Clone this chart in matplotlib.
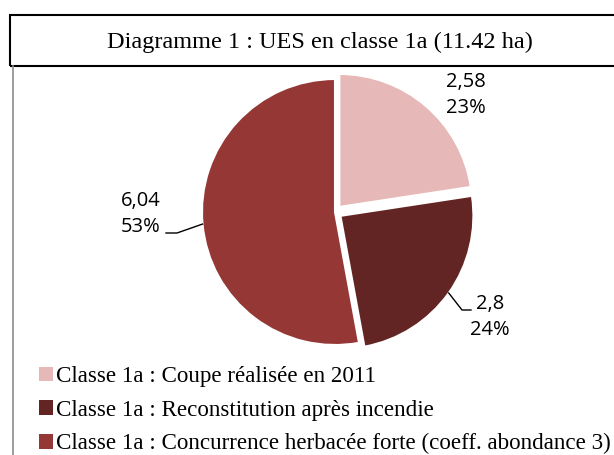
import matplotlib.pyplot as plt
import numpy as np
from matplotlib.patches import Rectangle, Patch

# data
labels = ["Classe 1a : Coupe réalisée en 2011",
          "Classe 1a : Reconstitution après incendie",
          "Classe 1a : Concurrence herbacée forte (coeff. abondance 3)"]
surfaces = [2.58, 2.8, 6.04]
value_labels = ["2,58", "2,8", "6,04"]
pct_labels = ["23%", "24%", "53%"]
colors = ["#E6B9B8", "#632523", "#953735"]
title = "Diagramme 1 : UES en classe 1a (11.42 ha)"

W, H = 614, 455
fig = plt.figure(figsize=(W / 100, H / 100), dpi=100)
ax = fig.add_axes([0, 0, 1, 1])

# pie, in pixel coordinates (y going up)
cx, cy, r = 335, H - 212, 133
# explode is an absolute offset in matplotlib, so scale it by the radius
wedges, _ = ax.pie(surfaces, colors=colors, startangle=90, counterclock=False,
                   explode=[0.05 * r, 0.05 * r, 0], radius=r, center=(cx, cy),
                   wedgeprops=dict(edgecolor="white", linewidth=1.5))
ax.set_xlim(0, W)
ax.set_ylim(0, H)
ax.set_aspect("equal")
ax.axis("off")

# data labels
lab_font = dict(family="Open Sans", fontsize=14.5, ha="center", va="center",
                linespacing=1.35, color="black")
lab_pos = [(466, H - 95), (490, H - 317), (141, H - 214)]
for i, (x, y) in enumerate(lab_pos):
    ax.text(x, y, value_labels[i] + "\n" + pct_labels[i], **lab_font)

# leader lines for the two last slices
elbows = {1: [(462, H - 310), (471, H - 310)], 2: [(177, H - 233), (166, H - 233)]}
for i, pts in elbows.items():
    w = wedges[i]
    mid = np.deg2rad((w.theta1 + w.theta2) / 2)
    ex = w.center[0] + w.r * np.cos(mid)
    ey = w.center[1] + w.r * np.sin(mid)
    xs = [ex] + [p[0] for p in pts]
    ys = [ey] + [p[1] for p in pts]
    ax.plot(xs, ys, color="black", lw=1)

# title box and chart frame
ax.add_patch(Rectangle((10, H - 66), 620, 51, fill=False, edgecolor="black",
                       lw=1.5, clip_on=False))
ax.plot([13, 13], [0, H - 66], color="#8c8c8c", lw=1.2)
ax.text(320, H - 42, title, family="Liberation Serif", fontsize=17.5,
        ha="center", va="center")

# legend
handles = [Patch(facecolor=c, edgecolor="none") for c in colors]
leg = ax.legend(handles, labels, loc="upper left", bbox_to_anchor=(39 / W, 1 - 366 / H),
                frameon=False, prop=dict(family="Liberation Serif", size=16.6),
                handlelength=0.6, handleheight=0.6, handletextpad=0.12,
                labelspacing=0.55, borderaxespad=0, borderpad=0)

fig.savefig("out.png", dpi=100)
